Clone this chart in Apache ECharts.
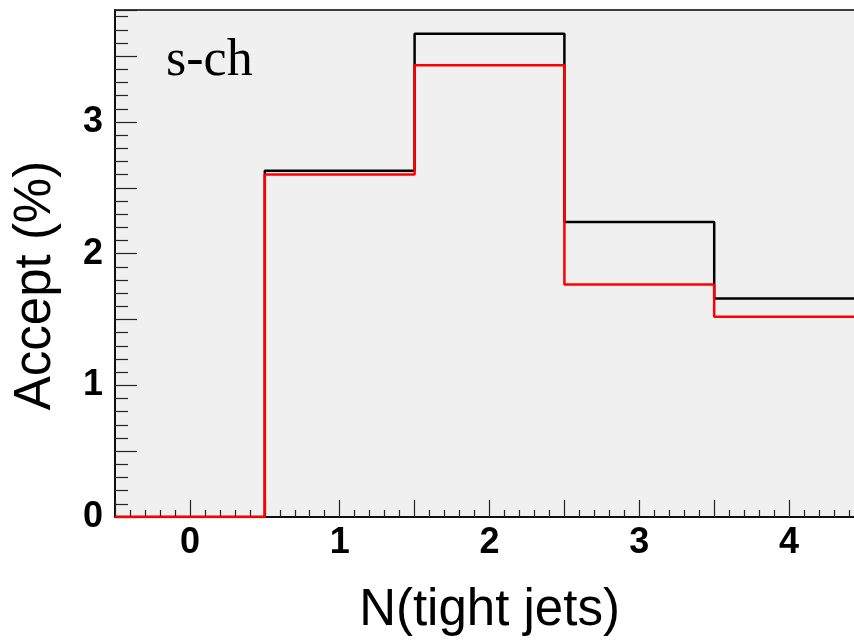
<!DOCTYPE html>
<html>
<head>
<meta charset="utf-8">
<script src="https://cdn.jsdelivr.net/npm/echarts@6/dist/echarts.min.js"></script>
<style>
html,body{margin:0;padding:0;background:#fff;}
#chart{width:854px;height:640px;}
</style>
</head>
<body>
<div id="chart"></div>
<script>
// Bin centres: number of tight jets
var nJets = [0, 1, 2, 3, 4];
// Acceptance (%) per bin, black histogram
var acceptBlack = [0, 2.63, 3.67, 2.24, 1.66];
// Acceptance (%) per bin, red histogram
var acceptRed = [0, 2.60, 3.43, 1.765, 1.52];
var binHalfWidth = 0.5;
var xMin = -0.5, xMax = 4.5;
var yMin = 0, yMax = 3.85;

function histPoints(centers, vals) {
  var pts = [];
  for (var i = 0; i < centers.length; i++) {
    pts.push([centers[i] - binHalfWidth, vals[i]]);
  }
  pts.push([centers[centers.length - 1] + binHalfWidth, vals[vals.length - 1]]);
  return pts;
}

var chart = echarts.init(document.getElementById('chart'), null, {renderer: 'canvas'});
var labelFont = 'Liberation Sans, Arial, Helvetica, sans-serif';
chart.setOption({
  animation: false,
  backgroundColor: '#ffffff',
  grid: {
    left: 115, top: 10, width: 749, height: 507,
    outerBoundsMode: 'none', containLabel: false,
    show: true, backgroundColor: '#f0f0f0', borderColor: '#000', borderWidth: 1.5
  },
  xAxis: {
    type: 'value', min: xMin, max: xMax, interval: 0.5,
    axisLine: {show: true, onZero: false, lineStyle: {color: '#000', width: 1.5}},
    axisTick: {show: true, inside: true, length: 17, lineStyle: {color: '#222', width: 1.2}},
    minorTick: {show: true, splitNumber: 5, length: 7, lineStyle: {color: '#222', width: 1.2}},
    splitLine: {show: false},
    axisLabel: {
      margin: 8, color: '#000', fontSize: 36, fontWeight: 'bold', fontFamily: labelFont,
      formatter: function (v) { return Math.abs(v - Math.round(v)) < 1e-6 ? String(Math.round(v)) : ''; }
    },
    name: 'N(tight jets)', nameLocation: 'middle', nameGap: 68,
    nameTextStyle: {fontSize: 51, color: '#000', fontFamily: labelFont}
  },
  yAxis: {
    type: 'value', min: yMin, max: yMax, interval: 0.5,
    axisLine: {show: true, onZero: false, lineStyle: {color: '#000', width: 1.5}},
    axisTick: {show: true, inside: true, length: 22, lineStyle: {color: '#222', width: 1.2}},
    minorTick: {show: true, splitNumber: 5, length: 13, lineStyle: {color: '#222', width: 1.2}},
    splitLine: {show: false},
    axisLabel: {
      margin: 12, color: '#000', fontSize: 36, fontWeight: 'bold', fontFamily: labelFont,
      showMaxLabel: false,
      formatter: function (v) { return Math.abs(v - Math.round(v)) < 1e-6 ? String(Math.round(v)) : ''; }
    },
    name: 'Accept (%)', nameLocation: 'middle', nameGap: 54,
    nameTextStyle: {fontSize: 51, color: '#000', fontFamily: labelFont, padding: [0, 44, 0, 0]}
  },
  graphic: [{
    type: 'text', left: 166, top: 35,
    style: {text: 's-ch', font: '52px "Liberation Serif", "Times New Roman", serif', fill: '#000'}
  }],
  series: [
    {
      type: 'line', step: 'end', data: histPoints(nJets, acceptBlack),
      symbol: 'none', lineStyle: {color: '#000', width: 2.5}, z: 2
    },
    {
      type: 'line', step: 'end', data: histPoints(nJets, acceptRed),
      symbol: 'none', lineStyle: {color: '#ff0000', width: 2.5}, z: 3
    }
  ]
});
</script>
</body>
</html>
